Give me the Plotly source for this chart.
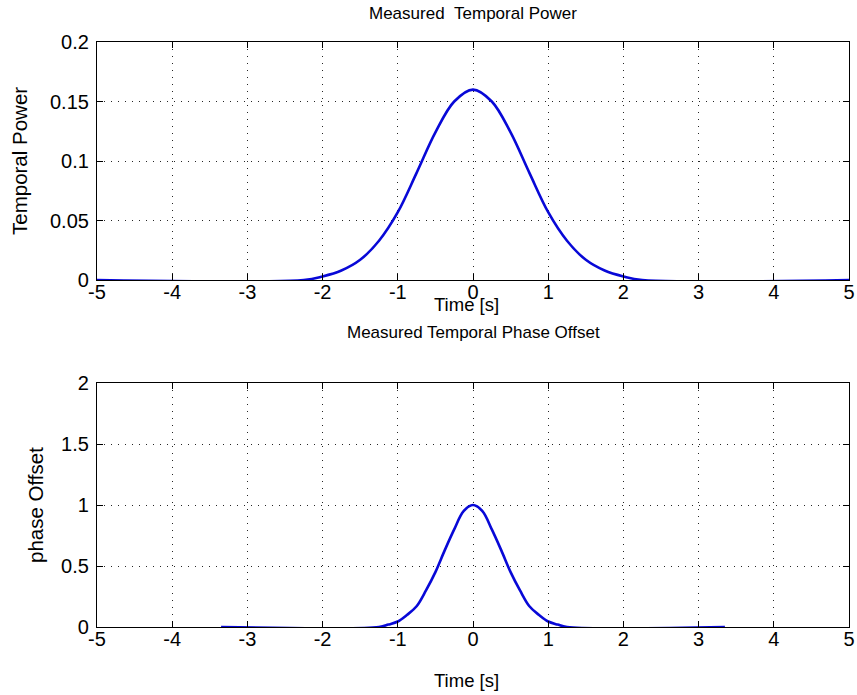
import plotly.graph_objects as go

# Measured temporal power
t_power = [-5.0, -2.25, -2.0, -1.75, -1.5, -1.25, -1.0, -0.75, -0.5, -0.25, 0.0,
           0.25, 0.5, 0.75, 1.0, 1.25, 1.5, 1.75, 2.0, 2.25, 5.0]
power = [0.0, 0.0, 0.003, 0.008, 0.017, 0.033, 0.057, 0.090, 0.124, 0.150, 0.160,
         0.150, 0.124, 0.090, 0.057, 0.033, 0.017, 0.008, 0.003, 0.0, 0.0]

# Measured temporal phase offset
t_phase = [-3.35, -1.25, -1.125, -1.0, -0.875, -0.75, -0.625, -0.5, -0.375, -0.25, -0.125, 0.0,
           0.125, 0.25, 0.375, 0.5, 0.625, 0.75, 0.875, 1.0, 1.125, 1.25, 3.35]
phase = [0.0, 0.0, 0.02, 0.045, 0.10, 0.17, 0.30, 0.45, 0.63, 0.80, 0.95, 1.0,
         0.95, 0.80, 0.63, 0.45, 0.30, 0.17, 0.10, 0.045, 0.02, 0.0, 0.0]

x_ticks = [-5, -4, -3, -2, -1, 0, 1, 2, 3, 4, 5]
x_ticklabels = ["-5", "-4", "-3", "-2", "-1", "0", "1", "2", "3", "4", "5"]
power_ticks = [0, 0.05, 0.1, 0.15, 0.2]
power_ticklabels = ["0", "0.05", "0.1", "0.15", "0.2"]
phase_ticks = [0, 0.5, 1, 1.5, 2]
phase_ticklabels = ["0", "0.5", "1", "1.5", "2"]

FONT = "Liberation Sans, Arial, sans-serif"
LINE = "rgb(8,8,215)"
W, H = 857, 695


def px(x):
    return x / W


def py(y):
    return 1 - y / H


fig = go.Figure()
fig.add_trace(go.Scatter(x=t_power, y=power, mode="lines", xaxis="x", yaxis="y",
                         line=dict(color=LINE, width=2.6, shape="spline", smoothing=1.0),
                         showlegend=False))
fig.add_trace(go.Scatter(x=t_phase, y=phase, mode="lines", xaxis="x2", yaxis="y2",
                         line=dict(color=LINE, width=2.6, shape="spline", smoothing=1.0),
                         showlegend=False))

xdom = [px(97), px(849)]
top_dom = [py(280), py(42)]
bot_dom = [py(627), py(383)]

common = dict(showline=True, linecolor="black", linewidth=1.2, mirror="ticks",
              ticks="inside", ticklen=6, tickcolor="black", tickwidth=1.2,
              showgrid=True, gridcolor="rgba(0,0,0,0.85)", gridwidth=1, griddash="1px,6px",
              zeroline=False, automargin=False,
              tickfont=dict(family=FONT, size=20, color="black"))

fig.update_layout(
    template="none",
    width=W, height=H, autosize=False,
    margin=dict(l=0, r=0, t=0, b=0, pad=0),
    paper_bgcolor="white", plot_bgcolor="white",
    xaxis=dict(domain=xdom, anchor="y", range=[-5, 5], tickvals=x_ticks,
               ticktext=x_ticklabels, ticklabelstandoff=-6, **common),
    yaxis=dict(domain=top_dom, anchor="x", range=[0, 0.2], tickvals=power_ticks,
               ticktext=power_ticklabels, ticklabelstandoff=3, **common),
    xaxis2=dict(domain=xdom, anchor="y2", range=[-5, 5], tickvals=x_ticks,
                ticktext=x_ticklabels, ticklabelstandoff=-6, **common),
    yaxis2=dict(domain=bot_dom, anchor="x2", range=[0, 2], tickvals=phase_ticks,
                ticktext=phase_ticklabels, ticklabelstandoff=3, **common),
)


def label(text, x, y, angle=0, size=17):
    fig.add_annotation(text=text, x=px(x), y=py(y), xref="paper", yref="paper",
                       showarrow=False, textangle=angle, xanchor="center", yanchor="middle",
                       font=dict(family=FONT, size=size, color="black"))


label("Measured \u00a0Temporal Power", 473, 14, size=17)
label("Time [s]", 466, 305, size=18.5)
label("Temporal Power", 19, 161, angle=-90, size=20.5)
label("Measured Temporal Phase Offset", 473, 332, size=17)
label("Time [s]", 466, 680, size=18.5)
label("phase Offset", 35, 505, angle=-90, size=20.5)

fig.write_html("out.html")
